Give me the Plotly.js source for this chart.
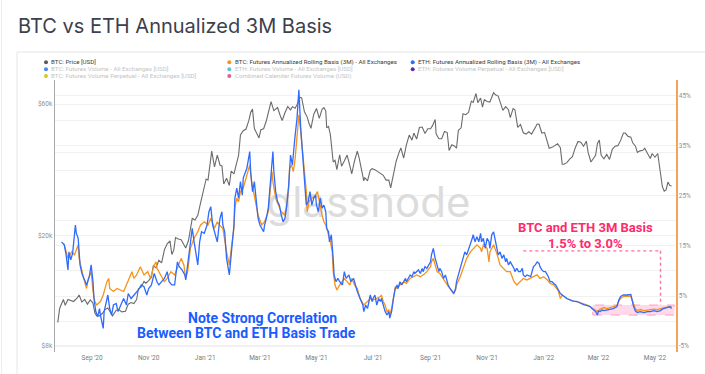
<!DOCTYPE html>
<html>
<head>
<meta charset="utf-8">
<script src="https://cdn.plot.ly/plotly-3.0.1.min.js"></script>
<style>
  html, body { margin: 0; padding: 0; background: #ffffff; }
  #chart { width: 705px; height: 374px; }
</style>
</head>
<body>
<div id="chart"></div>
<script>
// ---------------- DATA ----------------
const priceDates = ['2020-07-26','2020-07-28','2020-08-01','2020-08-03','2020-08-06','2020-08-09','2020-08-12','2020-08-16','2020-08-18','2020-08-21','2020-08-24','2020-08-27','2020-08-30','2020-09-02','2020-09-04','2020-09-06','2020-09-09','2020-09-12','2020-09-15','2020-09-18','2020-09-21','2020-09-23','2020-09-27','2020-09-30','2020-10-03','2020-10-07','2020-10-10','2020-10-13','2020-10-16','2020-10-19','2020-10-21','2020-10-24','2020-10-27','2020-10-29','2020-11-01','2020-11-04','2020-11-06','2020-11-09','2020-11-12','2020-11-15','2020-11-18','2020-11-21','2020-11-24','2020-11-26','2020-11-28','2020-11-30','2020-12-03','2020-12-06','2020-12-09','2020-12-11','2020-12-14','2020-12-16','2020-12-18','2020-12-21','2020-12-24','2020-12-27','2020-12-30','2021-01-02','2021-01-04','2021-01-06','2021-01-08','2021-01-11','2021-01-14','2021-01-17','2021-01-19','2021-01-21','2021-01-24','2021-01-27','2021-01-29','2021-02-01','2021-02-04','2021-02-06','2021-02-08','2021-02-11','2021-02-14','2021-02-17','2021-02-19','2021-02-21','2021-02-23','2021-02-26','2021-02-28','2021-03-02','2021-03-05','2021-03-08','2021-03-10','2021-03-13','2021-03-16','2021-03-18','2021-03-20','2021-03-23','2021-03-25','2021-03-28','2021-03-31','2021-04-03','2021-04-05','2021-04-08','2021-04-10','2021-04-13','2021-04-15','2021-04-18','2021-04-21','2021-04-23','2021-04-25','2021-04-28','2021-05-01','2021-05-04','2021-05-07','2021-05-09','2021-05-11','2021-05-12','2021-05-14','2021-05-16','2021-05-19','2021-05-21','2021-05-23','2021-05-26','2021-05-28','2021-05-31','2021-06-03','2021-06-06','2021-06-08','2021-06-11','2021-06-14','2021-06-16','2021-06-18','2021-06-21','2021-06-22','2021-06-25','2021-06-28','2021-06-30','2021-07-03','2021-07-06','2021-07-09','2021-07-12','2021-07-15','2021-07-18','2021-07-20','2021-07-23','2021-07-26','2021-07-29','2021-07-31','2021-08-03','2021-08-06','2021-08-09','2021-08-12','2021-08-14','2021-08-17','2021-08-20','2021-08-23','2021-08-26','2021-08-29','2021-09-01','2021-09-03','2021-09-06','2021-09-07','2021-09-10','2021-09-13','2021-09-16','2021-09-19','2021-09-21','2021-09-24','2021-09-27','2021-09-29','2021-10-01','2021-10-04','2021-10-06','2021-10-09','2021-10-12','2021-10-15','2021-10-17','2021-10-20','2021-10-22','2021-10-25','2021-10-27','2021-10-29','2021-11-01','2021-11-04','2021-11-08','2021-11-10','2021-11-13','2021-11-16','2021-11-18','2021-11-21','2021-11-24','2021-11-26','2021-11-29','2021-12-01','2021-12-04','2021-12-07','2021-12-10','2021-12-13','2021-12-16','2021-12-19','2021-12-22','2021-12-25','2021-12-27','2021-12-30','2022-01-02','2022-01-05','2022-01-07','2022-01-10','2022-01-13','2022-01-16','2022-01-19','2022-01-21','2022-01-23','2022-01-26','2022-01-29','2022-02-01','2022-02-04','2022-02-07','2022-02-10','2022-02-13','2022-02-16','2022-02-18','2022-02-21','2022-02-24','2022-02-26','2022-02-28','2022-03-02','2022-03-04','2022-03-07','2022-03-10','2022-03-13','2022-03-16','2022-03-19','2022-03-22','2022-03-25','2022-03-28','2022-03-30','2022-04-02','2022-04-05','2022-04-07','2022-04-10','2022-04-12','2022-04-15','2022-04-18','2022-04-20','2022-04-23','2022-04-26','2022-04-28','2022-05-01','2022-05-04','2022-05-06','2022-05-09','2022-05-11','2022-05-13','2022-05-15','2022-05-17','2022-05-19'];
const priceValues = [9700,10900,11750,11200,11750,11650,11550,11900,12200,11500,11750,11300,11700,11400,10500,10250,10250,10450,10800,10950,10450,10250,10750,10800,10600,10650,11300,11450,11350,11750,12850,13050,13650,13450,13750,14150,15600,15300,16300,15950,17800,18700,19150,17100,17700,19700,19450,19350,18550,18050,19250,21300,23100,22800,23700,26300,28900,32100,31800,36700,40500,35500,39200,36000,35800,30800,32300,30400,34300,33500,36900,39200,46400,48000,48700,52200,55900,57500,48900,46300,45200,48400,48800,52300,56000,61200,56800,57700,58300,54300,52300,55800,58800,57100,58700,57900,59700,63500,63100,56200,53800,51000,49000,55000,57800,53200,57400,58200,56700,49200,49800,46400,37000,37500,34700,39300,35700,37300,39200,35800,33500,37300,40500,38300,35800,31600,32500,31600,34500,35000,34700,34200,33800,33100,31800,31800,29800,33600,37300,40000,41600,38200,42800,46300,44400,47100,44800,49300,49500,46900,48800,48800,50000,52700,46800,44900,44900,47700,47300,40700,42700,42200,41500,48200,49200,55300,54900,56000,61500,60800,65500,60700,63100,58500,62200,61300,61000,66000,64800,64100,60300,56900,58700,57200,53600,57800,57200,49400,50600,47200,46700,47600,46700,48600,50800,50700,47100,47300,43500,41500,41800,42600,43100,41700,36300,36300,36800,37900,38700,41600,43900,43600,42200,44000,40000,37000,38300,39100,43200,44400,39100,38000,39400,37800,41100,42200,42400,44300,47100,47100,45800,45500,43400,42200,40100,40600,40800,41500,39700,38100,39700,38500,39700,36000,30100,29000,29300,31300,30400,30300];

const btcBasisDates = ['2020-08-01','2020-08-02','2020-08-06','2020-08-10','2020-08-13','2020-08-17','2020-08-18','2020-08-21','2020-08-23','2020-08-26','2020-08-28','2020-08-31','2020-09-02','2020-09-04','2020-09-06','2020-09-10','2020-09-13','2020-09-17','2020-09-19','2020-09-20','2020-09-24','2020-09-28','2020-10-01','2020-10-05','2020-10-08','2020-10-12','2020-10-14','2020-10-16','2020-10-19','2020-10-23','2020-10-25','2020-10-27','2020-10-31','2020-11-03','2020-11-07','2020-11-09','2020-11-10','2020-11-14','2020-11-18','2020-11-21','2020-11-25','2020-11-29','2020-12-02','2020-12-06','2020-12-09','2020-12-11','2020-12-13','2020-12-16','2020-12-20','2020-12-24','2020-12-27','2020-12-31','2021-01-04','2021-01-07','2021-01-11','2021-01-14','2021-01-17','2021-01-20','2021-01-24','2021-01-27','2021-01-30','2021-02-01','2021-02-02','2021-02-04','2021-02-06','2021-02-08','2021-02-11','2021-02-15','2021-02-18','2021-02-20','2021-02-23','2021-02-25','2021-02-27','2021-03-03','2021-03-06','2021-03-10','2021-03-12','2021-03-14','2021-03-15','2021-03-18','2021-03-21','2021-03-24','2021-03-28','2021-03-30','2021-04-01','2021-04-02','2021-04-04','2021-04-06','2021-04-08','2021-04-10','2021-04-11','2021-04-12','2021-04-14','2021-04-17','2021-04-20','2021-04-21','2021-04-23','2021-04-26','2021-04-30','2021-05-02','2021-05-04','2021-05-07','2021-05-09','2021-05-11','2021-05-13','2021-05-16','2021-05-18','2021-05-19','2021-05-21','2021-05-23','2021-05-26','2021-05-29','2021-05-31','2021-06-03','2021-06-06','2021-06-08','2021-06-11','2021-06-14','2021-06-17','2021-06-19','2021-06-21','2021-06-25','2021-06-28','2021-07-01','2021-07-05','2021-07-09','2021-07-10','2021-07-12','2021-07-14','2021-07-16','2021-07-18','2021-07-19','2021-07-21','2021-07-23','2021-07-25','2021-07-27','2021-07-30','2021-08-03','2021-08-06','2021-08-10','2021-08-14','2021-08-17','2021-08-21','2021-08-24','2021-08-28','2021-09-01','2021-09-02','2021-09-04','2021-09-06','2021-09-08','2021-09-11','2021-09-15','2021-09-19','2021-09-22','2021-09-26','2021-09-28','2021-09-29','2021-10-03','2021-10-07','2021-10-10','2021-10-14','2021-10-17','2021-10-21','2021-10-25','2021-10-26','2021-10-28','2021-11-01','2021-11-03','2021-11-04','2021-11-08','2021-11-12','2021-11-15','2021-11-19','2021-11-22','2021-11-26','2021-11-30','2021-12-03','2021-12-07','2021-12-10','2021-12-14','2021-12-18','2021-12-21','2021-12-25','2021-12-28','2022-01-01','2022-01-05','2022-01-08','2022-01-12','2022-01-15','2022-01-17','2022-01-19','2022-01-21','2022-01-23','2022-01-26','2022-01-30','2022-02-02','2022-02-06','2022-02-10','2022-02-13','2022-02-17','2022-02-20','2022-02-24','2022-02-28','2022-03-03','2022-03-07','2022-03-10','2022-03-14','2022-03-17','2022-03-21','2022-03-23','2022-03-25','2022-03-28','2022-04-01','2022-04-05','2022-04-08','2022-04-10','2022-04-12','2022-04-15','2022-04-19','2022-04-23','2022-04-26','2022-04-30','2022-05-03','2022-05-07','2022-05-10','2022-05-14','2022-05-19'];
const btcBasisValues = [15.5,15.2,12.5,13.8,13.2,15.2,12.5,9.85,8.5,6.5,8.5,9.85,5.9,3.9,3.2,3.9,5.2,7.85,8.5,6.5,5.9,6.5,6.2,5.9,7.2,9.2,9.85,8.5,9.2,10.85,9.85,9.2,9.85,8.5,11.2,11.8,10.5,9.2,7.85,8.5,9.85,9.2,10.5,12.5,11.2,8.5,9.85,14.5,16.5,17.8,19.15,19.8,19.15,20.5,18.5,19.8,19.0,18.5,13.8,11.2,15.8,18.5,22.5,24.5,23.8,25.8,26.5,29.1,31.1,27.8,25.1,23.1,21.1,19.15,19.8,21.8,25.8,29.8,27.8,24.5,23.1,21.8,21.1,23.1,26.5,30.5,31.1,29.8,32.4,36.4,39.7,41.1,37.8,31.8,25.8,21.8,23.8,24.5,25.1,25.8,23.8,21.1,19.8,19.15,17.8,15.8,13.8,9.85,7.2,6.2,7.2,7.85,8.5,7.85,7.2,8.5,7.2,6.5,4.5,3.9,3.2,3.9,4.5,4.2,4.5,4.9,5.2,3.9,3.2,1.9,2.2,1.2,2.5,5.2,6.85,6.5,7.2,7.85,7.5,8.5,8.85,9.2,8.85,9.2,9.85,10.85,11.8,12.5,11.2,9.85,9.5,8.2,7.2,6.5,5.5,6.2,7.2,8.85,11.2,12.5,13.8,14.5,15.2,14.5,13.8,15.2,14.5,11.8,13.8,15.2,13.2,11.2,10.5,9.85,9.85,7.85,7.2,7.85,8.5,8.2,8.5,8.85,9.2,8.5,8.85,8.2,7.5,7.2,6.5,5.9,4.5,5.2,4.9,4.5,4.2,4.0,3.9,3.7,3.5,3.2,2.9,2.4,1.9,2.4,2.7,2.5,2.7,2.9,3.1,3.9,4.5,4.9,5.0,4.9,3.2,2.4,2.1,2.3,2.1,2.2,2.3,2.4,2.3,2.5,2.7,2.8,2.9];

const ethBasisDates = ['2020-07-30','2020-08-02','2020-08-04','2020-08-06','2020-08-07','2020-08-09','2020-08-11','2020-08-14','2020-08-15','2020-08-17','2020-08-19','2020-08-21','2020-08-23','2020-08-24','2020-08-26','2020-08-29','2020-08-31','2020-09-02','2020-09-03','2020-09-05','2020-09-07','2020-09-09','2020-09-10','2020-09-13','2020-09-14','2020-09-16','2020-09-18','2020-09-20','2020-09-22','2020-09-24','2020-09-27','2020-09-29','2020-10-02','2020-10-05','2020-10-08','2020-10-10','2020-10-13','2020-10-16','2020-10-19','2020-10-21','2020-10-24','2020-10-27','2020-10-30','2020-11-01','2020-11-04','2020-11-07','2020-11-10','2020-11-12','2020-11-15','2020-11-18','2020-11-21','2020-11-23','2020-11-26','2020-11-29','2020-12-02','2020-12-04','2020-12-07','2020-12-10','2020-12-11','2020-12-13','2020-12-16','2020-12-18','2020-12-20','2020-12-22','2020-12-24','2020-12-26','2020-12-28','2020-12-31','2021-01-03','2021-01-05','2021-01-07','2021-01-09','2021-01-11','2021-01-14','2021-01-16','2021-01-17','2021-01-19','2021-01-20','2021-01-22','2021-01-24','2021-01-27','2021-01-30','2021-02-01','2021-02-02','2021-02-04','2021-02-06','2021-02-08','2021-02-10','2021-02-11','2021-02-15','2021-02-18','2021-02-19','2021-02-21','2021-02-23','2021-02-25','2021-02-27','2021-03-01','2021-03-03','2021-03-05','2021-03-06','2021-03-08','2021-03-10','2021-03-12','2021-03-14','2021-03-15','2021-03-16','2021-03-18','2021-03-20','2021-03-22','2021-03-24','2021-03-26','2021-03-28','2021-03-30','2021-04-01','2021-04-02','2021-04-03','2021-04-05','2021-04-06','2021-04-08','2021-04-10','2021-04-11','2021-04-12','2021-04-14','2021-04-16','2021-04-17','2021-04-19','2021-04-20','2021-04-22','2021-04-24','2021-04-26','2021-04-28','2021-04-30','2021-05-01','2021-05-03','2021-05-05','2021-05-07','2021-05-09','2021-05-11','2021-05-12','2021-05-14','2021-05-15','2021-05-17','2021-05-18','2021-05-19','2021-05-20','2021-05-22','2021-05-24','2021-05-26','2021-05-29','2021-05-31','2021-06-02','2021-06-05','2021-06-07','2021-06-10','2021-06-12','2021-06-14','2021-06-17','2021-06-20','2021-06-21','2021-06-23','2021-06-25','2021-06-28','2021-06-30','2021-07-01','2021-07-03','2021-07-05','2021-07-07','2021-07-09','2021-07-10','2021-07-12','2021-07-14','2021-07-16','2021-07-18','2021-07-19','2021-07-21','2021-07-23','2021-07-25','2021-07-27','2021-07-28','2021-07-30','2021-08-01','2021-08-03','2021-08-05','2021-08-06','2021-08-08','2021-08-10','2021-08-12','2021-08-14','2021-08-15','2021-08-17','2021-08-19','2021-08-21','2021-08-23','2021-08-24','2021-08-26','2021-08-28','2021-08-30','2021-09-01','2021-09-02','2021-09-04','2021-09-06','2021-09-08','2021-09-10','2021-09-11','2021-09-13','2021-09-15','2021-09-17','2021-09-19','2021-09-20','2021-09-22','2021-09-24','2021-09-26','2021-09-28','2021-09-29','2021-10-01','2021-10-03','2021-10-05','2021-10-07','2021-10-08','2021-10-10','2021-10-12','2021-10-14','2021-10-16','2021-10-17','2021-10-19','2021-10-21','2021-10-23','2021-10-25','2021-10-26','2021-10-28','2021-10-30','2021-11-01','2021-11-03','2021-11-04','2021-11-06','2021-11-08','2021-11-10','2021-11-12','2021-11-13','2021-11-15','2021-11-17','2021-11-19','2021-11-21','2021-11-22','2021-11-24','2021-11-26','2021-11-28','2021-11-30','2021-12-01','2021-12-03','2021-12-05','2021-12-07','2021-12-09','2021-12-10','2021-12-12','2021-12-14','2021-12-18','2021-12-21','2021-12-23','2021-12-25','2021-12-27','2021-12-28','2021-12-30','2022-01-01','2022-01-03','2022-01-05','2022-01-06','2022-01-08','2022-01-10','2022-01-12','2022-01-14','2022-01-15','2022-01-17','2022-01-19','2022-01-21','2022-01-23','2022-01-26','2022-01-30','2022-02-02','2022-02-06','2022-02-10','2022-02-13','2022-02-17','2022-02-20','2022-02-22','2022-02-24','2022-02-26','2022-02-28','2022-03-01','2022-03-03','2022-03-05','2022-03-07','2022-03-10','2022-03-14','2022-03-17','2022-03-21','2022-03-23','2022-03-25','2022-03-28','2022-04-01','2022-04-05','2022-04-06','2022-04-08','2022-04-10','2022-04-12','2022-04-15','2022-04-19','2022-04-23','2022-04-26','2022-04-30','2022-05-03','2022-05-07','2022-05-10','2022-05-14','2022-05-17','2022-05-19'];
const ethBasisValues = [15.8,15.2,13.2,10.2,13.8,12.2,13.5,19.15,17.5,16.5,11.2,9.5,8.5,8.2,7.2,8.85,11.2,7.85,4.5,1.9,0.9,2.5,1.2,-1.45,1.9,3.9,5.2,2.5,1.2,3.2,3.5,1.9,3.2,4.5,3.2,5.5,4.5,5.2,5.9,6.2,7.2,6.85,5.2,6.5,7.2,9.5,7.85,7.2,7.85,8.5,9.85,7.85,7.2,7.2,11.8,10.85,10.2,9.2,8.2,10.85,15.8,18.5,15.8,13.8,11.2,15.8,17.8,17.5,19.15,21.8,22.8,19.15,17.8,15.8,19.15,20.5,21.8,19.15,17.8,12.5,9.2,15.2,19.15,24.5,26.5,24.5,27.8,25.1,28.5,30.5,33.8,29.8,25.8,27.8,23.8,20.5,19.15,18.5,17.8,19.15,20.5,22.5,27.1,31.8,33.8,29.8,25.8,23.8,23.1,21.1,19.8,20.5,23.1,27.1,31.1,33.1,31.1,33.8,37.1,40.4,43.1,46.1,38.4,33.8,30.5,26.5,23.1,23.8,25.8,23.1,24.5,25.1,23.1,21.8,24.5,22.5,23.1,21.8,18.5,17.8,15.8,17.2,15.2,12.5,9.2,7.85,8.5,7.85,7.2,9.85,8.5,9.2,7.85,8.5,7.2,5.9,4.5,3.2,1.9,3.2,2.5,5.2,3.9,4.5,5.2,3.2,4.5,3.9,4.5,3.2,1.9,1.2,1.9,0.6,1.9,4.5,6.5,7.2,6.5,7.85,7.2,7.85,8.5,7.85,8.5,9.2,8.85,9.85,9.5,9.85,10.2,9.5,10.5,9.85,10.85,10.5,11.2,11.8,13.2,14.5,12.5,10.85,9.85,10.5,9.85,8.5,9.2,7.85,7.2,6.5,5.9,5.5,6.5,7.85,9.2,10.5,11.8,13.2,13.8,13.2,14.2,15.5,16.5,17.2,15.8,16.8,15.8,17.5,15.8,16.5,14.5,16.5,15.8,14.5,17.2,17.8,15.8,13.8,13.2,13.8,12.5,13.2,11.8,12.5,11.2,11.8,11.2,10.5,9.85,10.5,9.85,9.85,10.5,9.2,8.85,9.2,8.85,10.85,11.2,11.8,11.5,10.85,10.2,9.85,9.85,9.2,8.85,7.85,7.85,7.5,7.2,6.85,6.2,5.5,5.2,4.9,4.5,4.2,4.0,3.9,3.5,3.3,3.1,2.9,2.5,2.2,1.9,1.2,2.0,1.9,2.2,2.1,2.2,2.4,2.5,2.9,4.2,4.9,5.2,5.2,5.3,4.5,2.9,2.0,1.7,1.9,1.7,1.9,1.9,2.1,1.9,2.1,2.5,2.7,2.9,2.5];

// axis ticks
const priceTickVals = [8000, 20000, 40000, 60000];
const priceTickText = ['$8k', '$20k', '', '$60k'];
const basisTickVals = [-5, 5, 15, 25, 35, 45];
const basisTickText = ['-5%', '5%', '15%', '25%', '35%', '45%'];
const basisMinorVals = [0, 10, 20, 30, 40];

// legend entries (3 columns x 3 rows, as in the reference)
const legendLabels = [
  'BTC: Price [USD]',
  'BTC: Futures Annualized Rolling Basis (3M) - All Exchanges',
  'ETH: Futures Annualized Rolling Basis (3M) - All Exchanges',
  'BTC: Futures Volume - All Exchanges [USD]',
  'ETH: Futures Volume - All Exchanges [USD]',
  'ETH: Futures Volume Perpetual - All Exchanges [USD]',
  'BTC: Futures Volume Perpetual - All Exchanges [USD]',
  'Combined Calendar Futures Volume (USD)'
];
const legendColors = ['#5a5a5a', '#f7931a', '#2f6bff', '#4a86f7', '#5bc0de', '#5b2bbf', '#d4cc1a', '#e0608f'];
const legendActive = [true, true, true, false, false, false, false, false];

// ---------------- LAYOUT HELPERS ----------------
const W = 705, H = 374;
const M = { l: 55, r: 29, t: 80, b: 22 };
const PW = W - M.l - M.r, PH = H - M.t - M.b;
const px = (x) => (x - M.l) / PW;          // pixel -> paper x
const py = (y) => (H - M.b - y) / PH;      // pixel -> paper y

const colX = [46, 229.3, 412.7];
const rowY = [62.3, 69.3, 76];

const annotations = [];
const shapes = [];

legendLabels.forEach((lab, i) => {
  const c = i % 3, r = Math.floor(i / 3);
  shapes.push({
    type: 'circle', xref: 'paper', yref: 'paper',
    xsizemode: 'pixel', ysizemode: 'pixel',
    xanchor: px(colX[c]), yanchor: py(rowY[r]),
    x0: -2, x1: 2, y0: -2, y1: 2,
    fillcolor: legendColors[i], line: { width: 0 }
  });
  annotations.push({
    xref: 'paper', yref: 'paper', x: px(colX[c] + 3.3), y: py(rowY[r]),
    xanchor: 'left', yanchor: 'middle', showarrow: false,
    text: lab,
    font: { family: 'Roboto', size: 6.2, color: legendActive[i] ? '#3a3a3a' : '#c4c4c4' }
  });
});

// card frame
shapes.push({ type: 'rect', xref: 'paper', yref: 'paper', layer: 'below',
  x0: px(17), x1: px(730), y0: py(400), y1: py(52),
  line: { color: '#e6e6e6', width: 1 }, fillcolor: 'rgba(0,0,0,0)' });
shapes.push({ type: 'line', xref: 'paper', yref: 'paper', layer: 'below',
  x0: px(1.5), x1: px(1.5), y0: py(400), y1: py(-10),
  line: { color: '#ededed', width: 1 } });

// basis range highlight
shapes.push({ type: 'line', xref: 'x', yref: 'y2', x0: '2021-12-10', x1: '2022-05-07', y0: 14.0, y1: 14.0,
  line: { color: '#ff6fa5', width: 1.4, dash: 'dot' } });
shapes.push({ type: 'line', xref: 'x', yref: 'y2', x0: '2022-05-07', x1: '2022-05-07', y0: 14.0, y1: 3.2,
  line: { color: '#ff6fa5', width: 1.4, dash: 'dot' } });
shapes.push({ type: 'rect', xref: 'x', yref: 'y2', x0: '2022-02-23', x1: '2022-05-22', y0: 1.2, y1: 3.2,
  fillcolor: 'rgba(255,120,175,0.28)', line: { color: '#ff9fc2', width: 1, dash: 'dash' }, layer: 'below' });

// text annotations
annotations.push({ xref: 'paper', yref: 'paper', x: px(585), y: py(227.5), xanchor: 'center', yanchor: 'middle',
  showarrow: false, text: '<b>BTC and ETH 3M Basis</b>', font: { family: 'Roboto', size: 13, color: '#ff2a6d' } });
annotations.push({ xref: 'paper', yref: 'paper', x: px(585), y: py(243), xanchor: 'center', yanchor: 'middle',
  showarrow: false, text: '<b>1.5% to 3.0%</b>', font: { family: 'Roboto', size: 13, color: '#ff2a6d' } });
annotations.push({ xref: 'paper', yref: 'paper', x: px(262.5), y: py(318.3), xanchor: 'center', yanchor: 'middle',
  showarrow: false, text: '<b>Note Strong Correlation</b>', font: { family: 'Roboto', size: 14, color: '#1a5cff' } });
annotations.push({ xref: 'paper', yref: 'paper', x: px(246.5), y: py(333), xanchor: 'center', yanchor: 'middle',
  showarrow: false, text: '<b>Between BTC and ETH Basis Trade</b>', font: { family: 'Roboto', size: 14, color: '#1a5cff' } });

// ---------------- TRACES ----------------
const traces = [
  { // watermark (drawn first so lines sit on top)
    type: 'scatter', mode: 'text', x: ['2021-06-26'], y: [25600], text: ['glassnode'],
    textposition: 'middle center', textfont: { family: 'Inter', size: 42, color: '#dcdcdc' },
    hoverinfo: 'skip', showlegend: false, xaxis: 'x', yaxis: 'y'
  },
  {
    type: 'scatter', mode: 'lines', name: legendLabels[0], x: priceDates, y: priceValues,
    line: { color: '#6b6b6b', width: 1.1 }, xaxis: 'x', yaxis: 'y'
  },
  {
    type: 'scatter', mode: 'lines', name: legendLabels[1], x: btcBasisDates, y: btcBasisValues,
    line: { color: '#f7931a', width: 1.3 }, xaxis: 'x', yaxis: 'y2'
  },
  {
    type: 'scatter', mode: 'lines', name: legendLabels[2], x: ethBasisDates, y: ethBasisValues,
    line: { color: '#2f6bff', width: 1.3 }, xaxis: 'x', yaxis: 'y2'
  }
];

const layout = {
  width: W, height: H,
  margin: M,
  paper_bgcolor: '#ffffff', plot_bgcolor: '#ffffff',
  showlegend: false,
  title: {
    text: 'BTC vs ETH Annualized 3M Basis',
    xref: 'container', yref: 'container', x: 18 / W, xanchor: 'left', y: 1 - 26 / H, yanchor: 'middle',
    font: { family: 'Inter', size: 20, color: '#3c414d' }
  },
  xaxis: {
    type: 'date', range: ['2020-07-23', '2022-05-23 17:00'],
    showgrid: false, zeroline: false, showline: false, ticks: '',
    tick0: '2020-09-01', dtick: 'M2', tickformat: "%b '%y",
    tickfont: { family: 'Roboto', size: 6.5, color: '#7a7a7a' }
  },
  yaxis: {
    type: 'log', range: [3.8797, 4.8652],
    tickvals: priceTickVals, ticktext: priceTickText,
    showgrid: true, gridcolor: '#f1f1f1', gridwidth: 1, zeroline: false,
    showline: true, linecolor: '#a8a8a8', linewidth: 1.5, ticks: '',
    tickfont: { family: 'Roboto', size: 6.5, color: '#8f8f8f' }
  },
  yaxis2: {
    overlaying: 'y', side: 'right', range: [-6.16, 48.05],
    tickvals: basisTickVals, ticktext: basisTickText,
    showgrid: true, gridcolor: '#f1f1f1', gridwidth: 1, zeroline: false,
    minor: { tickvals: basisMinorVals, showgrid: true, gridcolor: '#f1f1f1', ticks: '' },
    showline: true, linecolor: '#f3a35c', linewidth: 1.5, ticks: '',
    tickfont: { family: 'Roboto', size: 6.5, color: '#8f8f8f' }
  },
  annotations: annotations,
  shapes: shapes
};

Plotly.newPlot('chart', traces, layout, { displayModeBar: false, staticPlot: true });
</script>
</body>
</html>
